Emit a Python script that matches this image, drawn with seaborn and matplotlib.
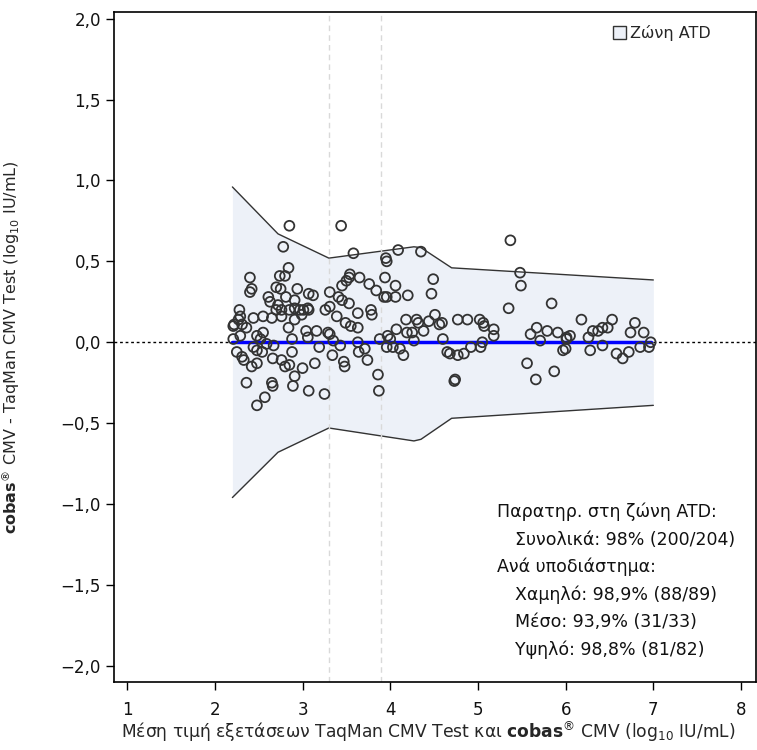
import numpy as np
import pandas as pd
import matplotlib
matplotlib.use("Agg")
import matplotlib.pyplot as plt
import seaborn as sns
from matplotlib.patches import Patch

# Ζώνη ATD (άνω / κάτω όριο)
band_x = [2.2, 2.72, 3.3, 4.27, 4.35, 4.7, 7.0]
band_hi = [0.96, 0.67, 0.52, 0.59, 0.585, 0.46, 0.385]
band_lo = [-0.96, -0.68, -0.53, -0.61, -0.60, -0.47, -0.39]

mean_x = [2.2, 6.97]
mean_bias = 0.0
cut_points = [3.3, 3.9]

# μέση τιμή (x) και διαφορά (y) ανά δείγμα
mean_val = [
    2.85, 2.78, 2.84, 2.40, 2.42, 2.40, 2.74, 2.80, 2.70, 2.75, 2.94, 3.07, 3.12,
    2.61, 2.63, 2.81, 2.91, 2.72, 2.70, 2.76, 2.85, 2.91, 2.97, 3.01, 3.06, 3.07,
    2.28, 2.29, 2.27, 2.21, 2.31, 2.36, 2.44, 2.55, 2.65, 2.76, 2.91, 2.99, 2.84,
    2.29, 2.21, 2.48, 2.55, 2.52, 2.59, 2.67, 2.88, 3.04, 3.16, 3.06, 2.44, 2.48,
    2.54, 2.88, 3.19, 3.31, 3.29, 3.26, 3.31, 3.31, 2.31, 2.33, 2.42, 2.48, 2.66,
    2.76, 2.80, 2.85, 3.00, 3.14, 2.36, 2.65, 2.66, 2.91, 2.89, 3.07, 3.25, 2.57,
    2.48, 3.35, 3.34, 2.22, 2.25,
    3.44, 3.58, 4.09, 4.35, 3.95, 3.96, 3.54, 3.53, 3.50, 3.45, 3.65, 3.76, 3.84,
    3.94, 4.06, 4.20, 4.49, 4.47, 3.93, 3.96, 4.06, 3.41, 3.45, 3.53, 3.39, 3.63,
    3.78, 3.79, 3.49, 3.55, 3.63, 4.18, 4.30, 4.32, 4.44, 4.51, 4.56, 4.59, 4.07,
    4.19, 4.25, 4.38, 3.97, 4.00, 3.88, 4.27, 4.60, 3.43, 3.63, 3.96, 4.03, 4.11,
    4.15, 3.71, 3.64, 3.74, 3.47, 3.48, 4.65, 3.86, 3.87, 4.73,
    5.37, 5.48, 5.49, 5.35, 5.84, 4.77, 4.88, 5.02, 5.06, 5.07, 5.18, 5.18, 5.05,
    5.03, 4.92, 4.84, 4.77, 4.68, 4.74, 5.67, 5.79, 5.91, 5.60, 5.71, 5.56, 5.66,
    5.87, 5.97, 6.01,
    6.18, 6.53, 6.79, 6.05, 6.01, 6.00, 6.26, 6.31, 6.37, 6.42, 6.48, 6.74, 6.89,
    6.42, 6.28, 6.58, 6.65, 6.72, 6.85, 6.95, 6.97,
]
diff_val = [
    0.72, 0.59, 0.46, 0.40, 0.33, 0.31, 0.41, 0.41, 0.34, 0.33, 0.33, 0.30, 0.29,
    0.28, 0.25, 0.28, 0.26, 0.23, 0.20, 0.20, 0.20, 0.21, 0.20, 0.20, 0.21, 0.20,
    0.20, 0.16, 0.14, 0.10, 0.11, 0.09, 0.15, 0.16, 0.15, 0.16, 0.14, 0.17, 0.09,
    0.04, 0.02, 0.04, 0.06, 0.02, -0.01, -0.02, 0.02, 0.07, 0.07, 0.03, -0.03, -0.05,
    -0.06, -0.06, -0.03, 0.05, 0.06, 0.20, 0.22, 0.31, -0.09, -0.11, -0.15, -0.13, -0.10,
    -0.11, -0.15, -0.14, -0.16, -0.13, -0.25, -0.25, -0.27, -0.21, -0.27, -0.30, -0.32, -0.34,
    -0.39, 0.01, -0.08, 0.11, -0.06,
    0.72, 0.55, 0.57, 0.56, 0.52, 0.50, 0.42, 0.40, 0.38, 0.35, 0.40, 0.36, 0.32,
    0.40, 0.35, 0.29, 0.39, 0.30, 0.28, 0.28, 0.28, 0.28, 0.26, 0.24, 0.16, 0.18,
    0.20, 0.17, 0.12, 0.10, 0.09, 0.14, 0.14, 0.12, 0.13, 0.17, 0.11, 0.12, 0.08,
    0.06, 0.06, 0.07, 0.04, 0.02, 0.02, 0.01, 0.02, -0.02, 0.00, -0.03, -0.03, -0.04,
    -0.08, -0.04, -0.06, -0.11, -0.12, -0.15, -0.06, -0.20, -0.30, -0.24,
    0.63, 0.43, 0.35, 0.21, 0.24, 0.14, 0.14, 0.14, 0.12, 0.10, 0.08, 0.04, 0.00,
    -0.03, -0.03, -0.07, -0.08, -0.07, -0.23, 0.09, 0.07, 0.06, 0.05, 0.01, -0.13, -0.23,
    -0.18, -0.05, 0.03,
    0.14, 0.14, 0.12, 0.04, 0.02, -0.04, 0.03, 0.07, 0.07, 0.09, 0.09, 0.06, 0.06,
    -0.02, -0.05, -0.07, -0.10, -0.06, -0.03, -0.03, 0.00,
]

x_ticks = [1, 2, 3, 4, 5, 6, 7, 8]
y_ticks = [-2.0, -1.5, -1.0, -0.5, 0.0, 0.5, 1.0, 1.5, 2.0]

stats_lines = [
    ("Παρατηρ. στη ζώνη ATD:", 0),
    ("Συνολικά: 98% (200/204)", 1),
    ("Ανά υποδιάστημα:", 0),
    ("Χαμηλό: 98,9% (88/89)", 1),
    ("Μέσο: 93,9% (31/33)", 1),
    ("Υψηλό: 98,8% (81/82)", 1),
]

BAND_COLOR = "#edf1f8"
EDGE = "#333333"

sns.set_theme(style="ticks")
plt.rcParams["font.family"] = ["DejaVu Sans"]
plt.rcParams["mathtext.fontset"] = "dejavusans"

fig = plt.figure(figsize=(7.57, 7.5), dpi=100)
ax = fig.add_axes([0.1506, 0.0907, 0.848, 0.893])

df = pd.DataFrame({"mean": mean_val, "diff": diff_val})
band = pd.DataFrame({"x": band_x, "hi": band_hi, "lo": band_lo})

ax.fill_between(band["x"], band["lo"], band["hi"], color=BAND_COLOR, lw=0, zorder=1)
sns.lineplot(data=band, x="x", y="hi", color=EDGE, lw=1, ax=ax, zorder=2)
sns.lineplot(data=band, x="x", y="lo", color=EDGE, lw=1, ax=ax, zorder=2)

for c in cut_points:
    ax.axvline(c, color="#d9d9d9", ls=(0, (4, 3)), lw=1, zorder=2)

ax.axhline(0, color="black", ls=(0, (2, 2)), lw=1, zorder=2)
sns.lineplot(x=mean_x, y=[mean_bias] * len(mean_x), color="#0000ff", lw=2.5, ax=ax, zorder=3)

sns.scatterplot(data=df, x="mean", y="diff", ax=ax, s=50, facecolor="none",
                edgecolor=EDGE, linewidth=1.3, zorder=4)

ax.set_xlim(0.85, 8.17)
ax.set_ylim(-2.1, 2.04)
ax.set_xticks(x_ticks)
ax.set_yticks(y_ticks)
ax.set_yticklabels([f"{v:.1f}".replace(".", ",").replace("-", "\u2212") for v in y_ticks])
ax.tick_params(axis="both", direction="out", length=6, width=1, labelsize=12,
               color="black", labelcolor="#111111")
ax.tick_params(axis="x", pad=8)
for sp in ax.spines.values():
    sp.set_visible(True)
    sp.set_color("black")
    sp.set_linewidth(1.2)

ax.set_xlabel(r"Μέση τιμή εξετάσεων TaqMan CMV Test και $\mathbf{cobas}^{®}$ CMV (log$_{10}$ IU/mL)",
              fontsize=12.3)
ax.set_ylabel(r"$\mathbf{cobas}^{®}$ CMV - TaqMan CMV Test (log$_{10}$ IU/mL)",
              fontsize=11.5)
ax.xaxis.set_label_coords(0.49, -0.055)
ax.yaxis.set_label_coords(-0.143, 0.5)

legend_handle = Patch(facecolor=BAND_COLOR, edgecolor=EDGE, lw=1, label="Ζώνη ATD")
ax.legend(handles=[legend_handle], loc="upper right", frameon=False, fontsize=11.5,
          handlelength=0.8, handleheight=0.8, handletextpad=0.3,
          bbox_to_anchor=(0.95, 1.0), borderaxespad=0.4)

y0 = -1.05
for i, (txt, indent) in enumerate(stats_lines):
    ax.text(5.22 + 0.2 * indent, y0 - i * 0.17, txt, fontsize=12.5, va="center",
            ha="left", color="#111111")

fig.savefig("out.png", dpi=100)
